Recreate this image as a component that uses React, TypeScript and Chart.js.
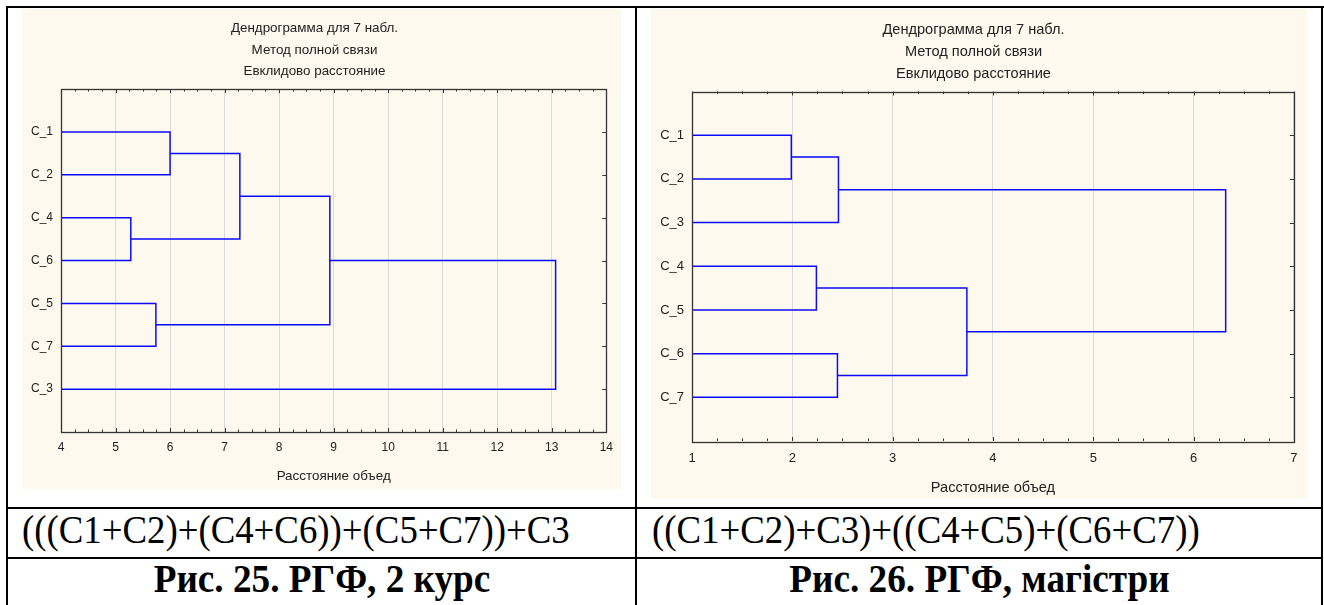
import React, { useEffect, useRef } from 'react';
import { Chart, registerables } from 'chart.js';

Chart.register(...registerables);

// ---------- shared text ----------
const TITLE_LINES = ['Дендрограмма для 7 набл.', 'Метод полной связи', 'Евклидово расстояние'];
const X_TITLE = 'Расстояние объед';

// ---------- Рис. 25 (left) ----------
const leftLeaves = ['C_1', 'C_2', 'C_4', 'C_6', 'C_5', 'C_7', 'C_3'];
// merge k creates cluster index (leaves.length + k); children refer to leaf or cluster indexes
const leftMergeA = [2, 4, 0, 9, 10, 11];
const leftMergeB = [3, 5, 1, 7, 8, 6];
const leftMergeDist = [5.28, 5.74, 6.0, 7.28, 8.93, 13.07];
const leftXTicks = [4, 5, 6, 7, 8, 9, 10, 11, 12, 13, 14];
const leftFormula = '(((C1+C2)+(C4+C6))+(C5+C7))+C3';
const leftCaption = 'Рис. 25. РГФ, 2 курс';

// ---------- Рис. 26 (right) ----------
const rightLeaves = ['C_1', 'C_2', 'C_3', 'C_4', 'C_5', 'C_6', 'C_7'];
const rightMergeA = [0, 3, 5, 7, 8, 10];
const rightMergeB = [1, 4, 6, 2, 9, 11];
const rightMergeDist = [1.99, 2.24, 2.45, 2.46, 3.74, 6.32];
const rightXTicks = [1, 2, 3, 4, 5, 6, 7];
const rightFormula = '((C1+C2)+C3)+((C4+C5)+(C6+C7))';
const rightCaption = 'Рис. 26. РГФ, магістри';

const LINE_COLOR = 'rgb(10,10,255)';
const SANS = "'Liberation Sans', Arial, sans-serif";
const SERIF = "'Liberation Serif', 'Times New Roman', serif";

function buildDatasets(leaves: string[], A: number[], B: number[], D: number[], xMin: number) {
  const pos: number[] = leaves.map((_, i) => i + 1);
  const h: number[] = leaves.map(() => xMin);
  const datasets: any[] = [];
  for (let k = 0; k < A.length; k++) {
    const a = A[k];
    const b = B[k];
    const d = D[k];
    datasets.push({
      data: [
        { x: h[a], y: pos[a] },
        { x: d, y: pos[a] },
        { x: d, y: pos[b] },
        { x: h[b], y: pos[b] },
      ],
      showLine: true,
      borderColor: LINE_COLOR,
      borderWidth: 1.5,
      pointRadius: 0,
      fill: false,
      tension: 0,
    });
    pos.push((pos[a] + pos[b]) / 2);
    h.push(d);
  }
  return datasets;
}

const framePlugin = {
  id: 'frame',
  afterDatasetsDraw(chart: any, _args: any, opts: any) {
    const { ctx, chartArea, scales } = chart;
    const { left, right, top, bottom } = chartArea;
    const x = scales.x;
    const y = scales.y;
    ctx.save();
    ctx.strokeStyle = '#333';
    ctx.lineWidth = 1.3;
    ctx.strokeRect(Math.round(left) + 0.5, Math.round(top) + 0.5, Math.round(right - left), Math.round(bottom - top));
    ctx.lineWidth = 1;
    ctx.beginPath();
    const step = opts.minorStep || 0.25;
    for (let v = x.min; v <= x.max + 1e-9; v += step) {
      const px = Math.round(x.getPixelForValue(v)) + 0.5;
      const major = Math.abs(v - Math.round(v)) < 1e-6;
      const len = major ? 4 : 2.5;
      ctx.moveTo(px, top);
      ctx.lineTo(px, top + len);
      ctx.moveTo(px, bottom);
      ctx.lineTo(px, bottom - len);
    }
    const n = opts.count || 0;
    for (let i = 1; i <= n; i++) {
      const py = Math.round(y.getPixelForValue(i)) + 0.5;
      ctx.moveTo(right, py);
      ctx.lineTo(right - 4, py);
    }
    ctx.stroke();
    ctx.restore();
  },
};

type DendroProps = {
  width: number;
  height: number;
  leaves: string[];
  A: number[];
  B: number[];
  D: number[];
  xTicks: number[];
  yAxisWidth: number;
  xAxisHeight: number;
  padRight: number;
  titleSize: number;
  tickSize: number;
  titlePadTop: number;
  titlePadBottom: number;
  titleLineHeight: number;
  xTickPad: number;
  xTitlePadBottom: number;
};

function Dendrogram(p: DendroProps) {
  const ref = useRef<HTMLCanvasElement | null>(null);
  useEffect(() => {
    if (!ref.current) return;
    const xMin = p.xTicks[0];
    const xMax = p.xTicks[p.xTicks.length - 1];
    const chart = new Chart(ref.current, {
      type: 'scatter',
      data: { datasets: buildDatasets(p.leaves, p.A, p.B, p.D, xMin) },
      plugins: [framePlugin],
      options: {
        animation: false,
        responsive: false,
        devicePixelRatio: 1,
        layout: { padding: { left: 0, right: p.padRight, top: 0, bottom: 0 } },
        plugins: {
          legend: { display: false },
          tooltip: { enabled: false },
          title: {
            display: true,
            text: TITLE_LINES,
            color: '#222',
            font: { family: SANS, size: p.titleSize, weight: 'normal', lineHeight: p.titleLineHeight + 'px' },
            padding: { top: p.titlePadTop, bottom: p.titlePadBottom },
          },
          frame: { count: p.leaves.length, minorStep: 0.25 },
        } as any,
        scales: {
          x: {
            type: 'linear',
            min: xMin,
            max: xMax,
            afterBuildTicks: (s: any) => {
              s.ticks = p.xTicks.map((v) => ({ value: v }));
            },
            afterFit: (s: any) => {
              s.height = p.xAxisHeight;
            },
            grid: { color: '#dadada', lineWidth: 1, drawTicks: false },
            border: { display: false },
            ticks: {
              color: '#222',
              font: { family: SANS, size: p.tickSize },
              padding: p.xTickPad,
              maxRotation: 0,
              autoSkip: false,
            },
            title: {
              display: true,
              text: X_TITLE,
              color: '#222',
              font: { family: SANS, size: p.titleSize },
              padding: { top: 0, bottom: p.xTitlePadBottom },
            },
          },
          y: {
            type: 'linear',
            min: 0,
            max: p.leaves.length + 1,
            reverse: true,
            afterBuildTicks: (s: any) => {
              s.ticks = p.leaves.map((_, i) => ({ value: i + 1 }));
            },
            afterFit: (s: any) => {
              s.width = p.yAxisWidth;
            },
            grid: { display: false, drawTicks: false },
            border: { display: false },
            ticks: {
              color: '#222',
              font: { family: SANS, size: p.tickSize },
              padding: 8,
              autoSkip: false,
              callback: (v: any) => p.leaves[Number(v) - 1] ?? '',
            },
          },
        },
      } as any,
    });
    return () => chart.destroy();
  }, []);
  return <canvas ref={ref} width={p.width} height={p.height} style={{ width: p.width, height: p.height, display: 'block' }} />;
}

const BEIGE = '#fdf9ee';

function Line(props: { x: number; y: number; w: number; h: number }) {
  return <div style={{ position: 'absolute', left: props.x, top: props.y, width: props.w, height: props.h, background: '#000' }} />;
}

const serifBase: React.CSSProperties = {
  position: 'absolute',
  height: 48,
  lineHeight: '48px',
  fontFamily: SERIF,
  fontSize: 40,
  whiteSpace: 'nowrap',
  color: '#000',
};

export default function App() {
  return (
    <div style={{ position: 'absolute', left: 0, top: 0, width: 1324, height: 605, overflow: 'hidden', background: '#fff' }}>
      {/* chart backgrounds + charts */}
      <div style={{ position: 'absolute', left: 22, top: 9, width: 599, height: 480, background: BEIGE }}>
        <Dendrogram
          width={599}
          height={480}
          leaves={leftLeaves}
          A={leftMergeA}
          B={leftMergeB}
          D={leftMergeDist}
          xTicks={leftXTicks}
          yAxisWidth={39}
          xAxisHeight={57}
          padRight={14}
          titleSize={13.4}
          tickSize={12}
          titlePadTop={8.5}
          titlePadBottom={6.5}
          titleLineHeight={21.7}
          xTickPad={8}
          xTitlePadBottom={5}
        />
      </div>
      <div style={{ position: 'absolute', left: 651, top: 9, width: 656, height: 490, background: BEIGE }}>
        <Dendrogram
          width={656}
          height={490}
          leaves={rightLeaves}
          A={rightMergeA}
          B={rightMergeB}
          D={rightMergeDist}
          xTicks={rightXTicks}
          yAxisWidth={41}
          xAxisHeight={58}
          padRight={11}
          titleSize={14.6}
          tickSize={13}
          titlePadTop={9.5}
          titlePadBottom={7}
          titleLineHeight={22}
          xTickPad={9.5}
          xTitlePadBottom={2}
        />
      </div>

      {/* text rows */}
      <div style={{ ...serifBase, left: 22, top: 506, transform: 'scaleX(0.92)', transformOrigin: 'left center' }}>
        {leftFormula}
      </div>
      <div style={{ ...serifBase, left: 652, top: 506, transform: 'scaleX(0.92)', transformOrigin: 'left center' }}>
        {rightFormula}
      </div>
      <div style={{ ...serifBase, left: 8, width: 627, top: 555, fontWeight: 'bold', textAlign: 'center' }}>
        <span style={{ display: 'inline-block', transform: 'scaleX(0.93)', transformOrigin: 'center center' }}>{leftCaption}</span>
      </div>
      <div style={{ ...serifBase, left: 637, width: 684, top: 555, fontWeight: 'bold', textAlign: 'center' }}>
        <span style={{ display: 'inline-block', transform: 'scaleX(0.93)', transformOrigin: 'center center' }}>{rightCaption}</span>
      </div>

      {/* table borders */}
      <Line x={6} y={6} w={1318} h={2} />
      <Line x={6} y={6} w={2} h={599} />
      <Line x={635} y={6} w={2} h={599} />
      <Line x={1321} y={6} w={2} h={599} />
      <Line x={6} y={507} w={1317} h={2} />
      <Line x={6} y={557} w={1317} h={2} />
    </div>
  );
}
